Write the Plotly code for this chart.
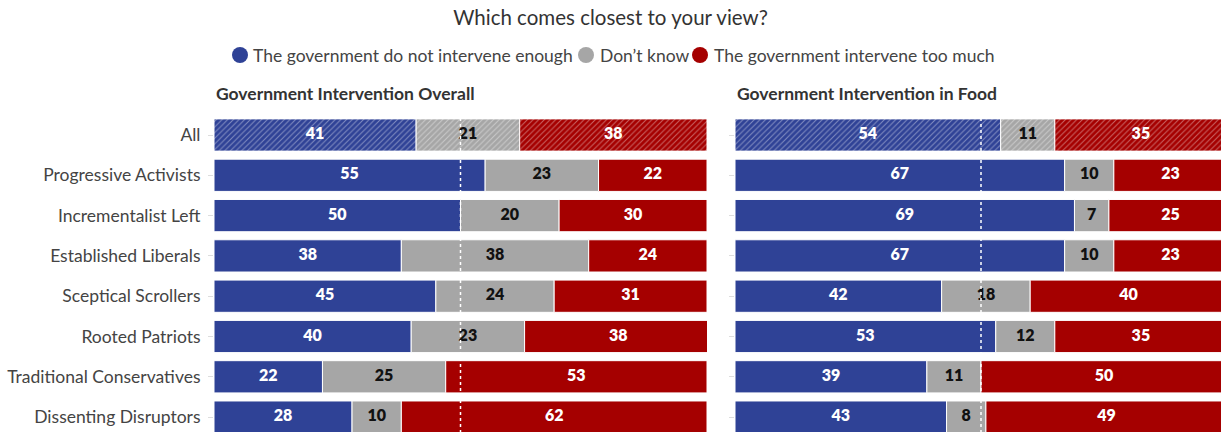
import plotly.graph_objects as go

# Segment groups (top to bottom)
groups = ["All", "Progressive Activists", "Incrementalist Left", "Established Liberals",
          "Sceptical Scrollers", "Rooted Patriots", "Traditional Conservatives",
          "Dissenting Disruptors"]

series_names = ["The government do not intervene enough", "Don\u2019t know",
                "The government intervene too much"]

# Government Intervention Overall
overall_enough = [41, 55, 50, 38, 45, 40, 22, 28]
overall_dk = [21, 23, 20, 38, 24, 23, 25, 10]
overall_much = [38, 22, 30, 24, 31, 38, 53, 62]

# Government Intervention in Food
food_enough = [54, 67, 69, 67, 42, 53, 39, 43]
food_dk = [11, 10, 7, 10, 18, 12, 11, 8]
food_much = [35, 23, 25, 23, 40, 35, 50, 49]

colors = ["#2F4296", "#A6A6A6", "#A50000"]
text_colors = ["white", "#111111", "white"]

W, H = 1221, 432
FONT = "Lato"
TEXT = "#444444"

rows = list(range(len(groups)))

fig = go.Figure()


def add_panel(values, xaxis, yaxis):
    bases = [0] * len(groups)
    for k, vals in enumerate(values):
        # first row ("All") is hatched, the rest solid
        shapes = ["/"] + [""] * (len(groups) - 1)
        fig.add_trace(go.Bar(
            y=rows, x=vals, base=bases, orientation="h",
            marker=dict(color=colors[k], line=dict(color="white", width=1),
                        pattern=dict(shape=shapes, fgcolor="white", fgopacity=0.4,
                                     size=4, solidity=0.25, fillmode="overlay")),
            width=0.8, showlegend=False, hoverinfo="skip",
            xaxis=xaxis, yaxis=yaxis,
        ))
        mids = [b + v / 2 for b, v in zip(bases, vals)]
        fig.add_trace(go.Scatter(
            y=rows, x=mids, mode="text", text=[str(v) for v in vals],
            textposition="middle center",
            textfont=dict(family=FONT, size=16, color=text_colors[k], weight=800),
            showlegend=False, hoverinfo="skip", xaxis=xaxis, yaxis=yaxis,
        ))
        bases = [b + v for b, v in zip(bases, vals)]


add_panel([overall_enough, overall_dk, overall_much], "x", "y")
add_panel([food_enough, food_dk, food_much], "x2", "y2")

# 50% reference lines
for xa, ya in (("x", "y"), ("x2", "y2")):
    fig.add_shape(type="line", xref=xa, yref=ya, x0=50, x1=50, y0=-0.42, y1=7.6,
                  line=dict(color="white", width=1.5, dash="dot"), layer="above")


# pixel helpers
def px_x(p):
    return p / W


def px_y(p):
    return 1 - p / H


# legend: coloured dots followed by the series names
legend_dot_px = [240, 586, 700]
legend_text_px = [251, 598, 712]
legend_y = 55
annotations = []
for name, c, dx, tx in zip(series_names, colors, legend_dot_px, legend_text_px):
    fig.add_shape(type="circle", xref="paper", yref="paper",
                  xsizemode="pixel", ysizemode="pixel",
                  xanchor=px_x(dx), yanchor=px_y(legend_y),
                  x0=-8, x1=8, y0=-8, y1=8,
                  fillcolor=c, line=dict(width=0))
    annotations.append(dict(text=name, xref="paper", yref="paper",
                            x=px_x(tx), y=px_y(legend_y), xanchor="left",
                            yanchor="middle", showarrow=False,
                            font=dict(family=FONT, size=17.5, color=TEXT)))

left_x0, left_x1 = 214, 707
right_x0 = 735
span = 492  # pixel width of 100 points in the right panel
right_max = (W - right_x0) / span * 100

top_px = 105
row0_px = 135
row_step = 40.3
y_top = (top_px - row0_px) / row_step
y_bot = (H - row0_px) / row_step

annotations += [
    dict(text="<b>Government Intervention Overall</b>", xref="paper", yref="paper",
         x=px_x(left_x0), y=px_y(93), xanchor="left", yanchor="middle",
         showarrow=False, font=dict(family=FONT, size=17.5, color="#333333")),
    dict(text="<b>Government Intervention in Food</b>", xref="paper", yref="paper",
         x=px_x(right_x0), y=px_y(93), xanchor="left", yanchor="middle",
         showarrow=False, font=dict(family=FONT, size=17.5, color="#333333")),
]

fig.update_layout(
    width=W, height=H,
    margin=dict(l=0, r=0, t=0, b=0),
    paper_bgcolor="white", plot_bgcolor="white",
    font=dict(family=FONT, color=TEXT),
    barmode="overlay",
    showlegend=False,
    title=dict(text="Which comes closest to your view?", x=0.5, xanchor="center",
               y=px_y(18), yanchor="middle", yref="container",
               font=dict(family=FONT, size=20.5, color="#333333")),
    xaxis=dict(domain=[px_x(left_x0), px_x(left_x1)], range=[0, 100], visible=False,
               fixedrange=True),
    xaxis2=dict(domain=[px_x(right_x0), 1.0], range=[0, right_max], visible=False,
                fixedrange=True),
    yaxis=dict(domain=[0, px_y(top_px)], range=[y_bot, y_top], tickmode="array",
               tickvals=rows, ticktext=groups, ticks="outside", ticklen=5,
               tickcolor="#DDDDDD", showgrid=False, zeroline=False, showline=False,
               tickfont=dict(family=FONT, size=17.5, color=TEXT), anchor="x",
               ticklabelstandoff=4),
    yaxis2=dict(domain=[0, px_y(top_px)], range=[y_bot, y_top], matches="y",
                showticklabels=False, ticks="outside", ticklen=5, tickcolor="#DDDDDD",
                tickvals=rows, showgrid=False, zeroline=False, showline=False,
                anchor="x2"),
    annotations=annotations,
)

fig.write_html("out.html")
